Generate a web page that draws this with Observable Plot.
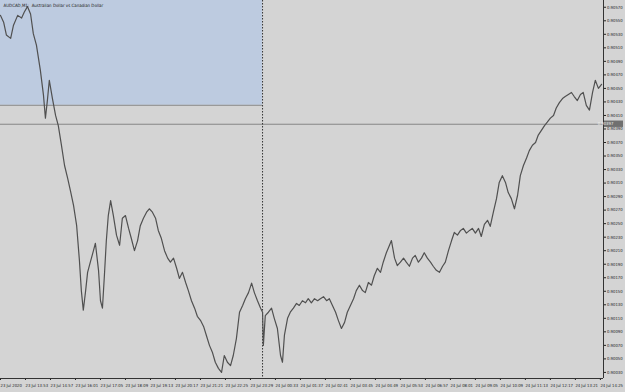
<!DOCTYPE html>
<html><head><meta charset="utf-8">
<script src="https://cdn.jsdelivr.net/npm/d3@7"></script>
<script src="https://cdn.jsdelivr.net/npm/@observablehq/plot@0.6"></script>
<style>html,body{margin:0;padding:0;background:#d4d4d4;overflow:hidden}</style>
</head><body><div id="chart"></div>
<script>
const title = "AUDCAD,M1:  Australian Dollar vs Canadian Dollar";
// minutes since 23 Jul 12:49
const minutes = [0,8,15,26,33,44,54,61,69,77,84,92,102,110,115,120,125,133,141,148,156,164,172,179,187,195,202,207,212,218,223,230,238,243,251,256,261,266,271,276,282,289,297,305,312,320,328,335,343,351,358,366,374,381,389,397,404,412,420,428,435,443,451,458,466,474,481,489,497,504,512,520,527,535,543,550,558,566,573,581,589,596,604,612,620,627,635,643,650,658,666,671,673,678,686,694,701,709,717,722,727,735,742,750,758,765,773,781,788,796,804,812,819,827,835,842,850,858,865,873,881,888,896,904,911,919,927,934,942,950,957,965,973,980,988,996,1001,1009,1016,1024,1032,1039,1047,1055,1062,1070,1078,1085,1093,1101,1108,1116,1124,1132,1139,1147,1155,1162,1170,1178,1185,1193,1201,1208,1216,1224,1231,1239,1247,1254,1262,1270,1277,1285,1293,1300,1308,1316,1324,1331,1339,1347,1354,1362,1370,1377,1385,1393,1400,1408,1416,1423,1431,1439,1446,1454,1462,1469,1477,1485,1492,1500,1508,1516,1523,1531,1539];
const prices = [0.90558,0.90548,0.90529,0.90524,0.90543,0.90558,0.90554,0.90563,0.90571,0.90560,0.90531,0.90514,0.90477,0.90440,0.90406,0.90432,0.90462,0.90435,0.90410,0.90395,0.90366,0.90336,0.90317,0.90299,0.90277,0.90247,0.90196,0.90151,0.90122,0.90151,0.90178,0.90193,0.90210,0.90221,0.90181,0.90136,0.90125,0.90173,0.90225,0.90262,0.90284,0.90262,0.90233,0.90218,0.90258,0.90262,0.90243,0.90228,0.90210,0.90225,0.90247,0.90258,0.90267,0.90272,0.90267,0.90258,0.90240,0.90228,0.90210,0.90199,0.90193,0.90199,0.90184,0.90169,0.90178,0.90163,0.90151,0.90136,0.90125,0.90113,0.90107,0.90098,0.90085,0.90070,0.90059,0.90045,0.90036,0.90030,0.90055,0.90045,0.90040,0.90055,0.90080,0.90119,0.90129,0.90139,0.90148,0.90162,0.90148,0.90136,0.90125,0.90119,0.90070,0.90114,0.90119,0.90125,0.90110,0.90095,0.90055,0.90045,0.90085,0.90110,0.90119,0.90125,0.90132,0.90129,0.90136,0.90133,0.90139,0.90133,0.90139,0.90136,0.90139,0.90142,0.90136,0.90139,0.90129,0.90119,0.90107,0.90095,0.90104,0.90119,0.90129,0.90139,0.90151,0.90159,0.90151,0.90148,0.90163,0.90159,0.90173,0.90184,0.90178,0.90193,0.90207,0.90218,0.90225,0.90199,0.90188,0.90193,0.90199,0.90193,0.90187,0.90199,0.90203,0.90193,0.90199,0.90207,0.90199,0.90193,0.90187,0.90181,0.90178,0.90187,0.90193,0.90210,0.90225,0.90237,0.90233,0.90240,0.90243,0.90236,0.90240,0.90243,0.90236,0.90243,0.90231,0.90249,0.90255,0.90246,0.90267,0.90287,0.90311,0.90321,0.90311,0.90296,0.90287,0.90272,0.90292,0.90321,0.90336,0.90347,0.90358,0.90366,0.90370,0.90381,0.90388,0.90395,0.90400,0.90406,0.90410,0.90421,0.90429,0.90435,0.90438,0.90441,0.90444,0.90438,0.90432,0.90441,0.90444,0.90425,0.90418,0.90444,0.90462,0.90450,0.90456];
const yTicks = [0.90570,0.90550,0.90530,0.90510,0.90490,0.90470,0.90450,0.90430,0.90410,0.90390,0.90370,0.90350,0.90330,0.90310,0.90290,0.90270,0.90250,0.90230,0.90210,0.90190,0.90170,0.90150,0.90130,0.90110,0.90090,0.90070,0.90050,0.90030];
const xTickMinutes = [0,64,128,192,256,320,384,448,512,576,640,704,768,832,896,960,1024,1088,1152,1216,1280,1344,1408,1472,1536];
const xTickLabels = ["23 Jul 2020","23 Jul 13:53","23 Jul 14:57","23 Jul 16:01","23 Jul 17:05","23 Jul 18:09","23 Jul 19:13","23 Jul 20:17","23 Jul 21:21","23 Jul 22:25","23 Jul 23:29","24 Jul 00:33","24 Jul 01:37","24 Jul 02:41","24 Jul 03:45","24 Jul 04:49","24 Jul 05:53","24 Jul 06:57","24 Jul 08:01","24 Jul 09:05","24 Jul 10:09","24 Jul 11:13","24 Jul 12:17","24 Jul 13:21","24 Jul 14:25"];
const currentPrice = 0.90397;
const zoneLow = 0.90425, zoneHigh = 0.90580;
const separatorMinute = 671;

const data = minutes.map((t, i) => ({t, p: prices[i]}));
const labelOf = new Map(xTickMinutes.map((m, i) => [m, xTickLabels[i]]));

const priceBox = (index, scales, values, dims) => {
  const g = d3.create("svg:g");
  const y = scales.y(currentPrice);
  const x0 = dims.width - dims.marginRight;
  g.append("rect").attr("x", x0 + 1).attr("y", y - 3.2).attr("width", 19).attr("height", 6.4).attr("fill", "#707070");
  g.append("text").attr("x", x0 + 2.5).attr("y", y + 1.6).attr("fill", "#f0f0f0")
    .attr("font-size", 4.2).attr("font-family", "DejaVu Sans Condensed, DejaVu Sans").text(currentPrice.toFixed(5));
  return g.node();
};

const chart = Plot.plot({
  width: 625, height: 392,
  marginLeft: 0, marginRight: 22, marginTop: 0, marginBottom: 14,
  style: {background: "#d4d4d4", fontFamily: "DejaVu Sans Condensed, DejaVu Sans", fontSize: "4.2px", color: "#222"},
  x: {domain: [0, 1544], label: null},
  y: {domain: [0.90021, 0.90580], label: null},
  marks: [
    Plot.rect([{}], {x1: 0, x2: separatorMinute, y1: zoneLow, y2: zoneHigh, fill: "#bdcbe0"}),
    Plot.ruleY([zoneLow], {x1: 0, x2: separatorMinute, stroke: "#8a8a8a"}),
    Plot.ruleY([currentPrice], {stroke: "#858585"}),
    Plot.ruleX([separatorMinute], {stroke: "#333", strokeDasharray: "1.5,1.5"}),
    Plot.line(data, {x: "t", y: "p", stroke: "#505050", strokeWidth: 1.2}),
    Plot.axisY({anchor: "right", label: null, ticks: yTicks, tickFormat: d => d.toFixed(5), tickSize: 2, tickPadding: 1.5, fontSize: 4.2}),
    Plot.axisX({anchor: "bottom", label: null, ticks: xTickMinutes, tickFormat: d => labelOf.get(d), tickSize: 2, tickPadding: 4, textAnchor: "start", fontSize: 4.2}),
    Plot.ruleX([1544], {stroke: "#333"}),
    Plot.ruleY([0.90021], {stroke: "#333"}),
    Plot.text([title], {frameAnchor: "top-left", dx: 3, dy: 3, fontSize: 4.4, fill: "#222", textAnchor: "start"}),
    priceBox
  ]
});
document.getElementById("chart").appendChild(chart);
</script>
</body></html>
